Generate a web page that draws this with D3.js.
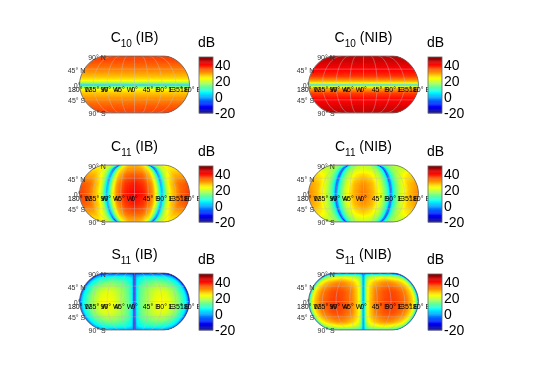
<!DOCTYPE html>
<html lang="en">
  <head>
    <meta charset="utf-8"/>
    <title>Radiation patterns</title>
    <script src="https://cdn.jsdelivr.net/npm/d3@7/dist/d3.min.js"></script>
    <style>
      html, body { margin: 0; background: #fff; }
      #chart { position: relative; width: 545px; height: 385px; overflow: hidden; filter: blur(0.35px); }
      canvas, svg { position: absolute; left: 0; top: 0; }
      text { font-family: "Liberation Sans", Arial, sans-serif; fill: #000; }
    </style>
  </head>
  <body>
    <div id="chart">
      <canvas id="heat" width="545" height="385"></canvas>
      <svg id="over" width="545" height="385"></svg>
    </div>
    <script type="text/javascript">
     // dB values. Quadrant only: each row is a |latitude|,
     // each column a |longitude|, the maps look mirrored about both axes.
     const latC10 = [0, 1.5, 3, 6, 10, 15, 25, 45, 70, 90];
     const c10Ib = [0, 7, 12, 17, 22, 25, 28, 32, 35, 36];
     const c10Nib = [3, 12, 18, 24, 29, 32, 37, 41, 44, 45];

     const lonC11 = [0, 30, 60, 75, 82, 87, 90, 93, 98, 105, 120, 150, 180];
     const latC11 = [0, 30, 60, 75, 90];
     const c11Ib = [
       [41, 39, 31, 20, 12, 5, -2, 5, 10, 18, 26, 34, 37],
       [39, 37, 30, 19, 11, 4, -3, 4, 10, 18, 26, 33, 35],
       [34, 33, 27, 17, 9, 2, -5, 2, 8, 15, 22, 28, 29],
       [31, 30, 25, 15, 7, -1, -8, -1, 6, 13, 20, 25, 26],
       [29, 28, 23, 13, 5, -4, -12, -4, 4, 11, 18, 23, 24]
     ];
     const c11Nib = [
       [33, 29, 21, 13, 8, 1, -9, 1, 8, 13, 20, 28, 32],
       [31, 28, 20, 12, 7, 0, -10, 0, 7, 12, 19, 27, 30],
       [26, 24, 18, 11, 6, -2, -12, -2, 6, 11, 17, 23, 26],
       [22, 21, 16, 10, 5, -3, -13, -3, 5, 10, 16, 20, 21],
       [20, 19, 15, 9, 3, -5, -14, -5, 3, 9, 14, 18, 19]
     ];

     const lonS11 = [0, 2, 5, 10, 20, 40, 70, 90, 110, 140, 160, 170, 175, 178, 180];
     const latS11 = [0, 30, 45, 60, 75, 83, 87, 90];
     const s11Ib = [
       [-16, -6, 3, 9, 14, 18, 23, 24, 23, 17, 10, 5, 0, -7, -16],
       [-16, -6, 3, 8, 13, 17, 21, 22, 21, 16, 9, 5, 0, -7, -16],
       [-16, -7, 2, 7, 12, 15, 18, 19, 18, 14, 8, 4, -1, -8, -16],
       [-17, -8, 1, 6, 9, 12, 14, 15, 14, 11, 7, 3, -2, -9, -17],
       [-18, -9, 0, 4, 6, 8, 9, 9, 9, 7, 4, 1, -3, -10, -18],
       [-18, -10, -2, 1, 2, 3, 3, 3, 3, 3, 1, -1, -4, -11, -18],
       [-18, -12, -5, -3, -2, -1, 0, 0, 0, -1, -2, -3, -6, -12, -18],
       [-18, -15, -12, -12, -12, -12, -12, -12, -12, -12, -12, -12, -12, -15, -18]
     ];
     const s11Nib = [
       [-8, 2, 12, 20, 27, 33, 36, 37, 36, 33, 27, 20, 12, 2, -8],
       [-8, 2, 12, 20, 26, 32, 35, 36, 35, 32, 26, 20, 12, 2, -8],
       [-9, 1, 11, 19, 25, 30, 33, 34, 33, 30, 25, 19, 11, 1, -9],
       [-9, 0, 10, 17, 23, 27, 30, 31, 30, 27, 23, 17, 10, 0, -9],
       [-10, -1, 8, 13, 18, 21, 23, 24, 23, 21, 18, 13, 8, -1, -10],
       [-11, -3, 5, 9, 13, 15, 16, 16, 16, 15, 13, 9, 5, -3, -11],
       [-12, -5, 0, 3, 6, 8, 9, 9, 9, 8, 6, 3, 0, -5, -12],
       [-13, -10, -8, -8, -8, -8, -8, -8, -8, -8, -8, -8, -8, -10, -13]
     ];

     const titles = [["C", "10", " (IB)"], ["C", "10", " (NIB)"],
                     ["C", "11", " (IB)"], ["C", "11", " (NIB)"],
                     ["S", "11", " (IB)"], ["S", "11", " (NIB)"]];
     const colorTicks = [-20, 0, 20, 40];
     const lonTicks = [-180, -135, -90, -45, 0, 45, 90, 135, 180];
     const latTicks = [90, 45, 0, -45, -90];

     function latOnly(values) {
         let s = d3.scaleLinear().domain(latC10).range(values);
         return (lon, lat) => s(Math.abs(lat));
     }

     function grid(lons, lats, rows) {
         let ci = d3.scaleLinear().domain(lons).range(d3.range(lons.length));
         let ri = d3.scaleLinear().domain(lats).range(d3.range(lats.length));
         return (lon, lat) => {
             let c = ci(Math.abs(lon)),
                 r = ri(Math.abs(lat)),
                 c0 = Math.min(Math.floor(c), lons.length - 2),
                 r0 = Math.min(Math.floor(r), lats.length - 2),
                 a = d3.interpolateNumber(rows[r0][c0], rows[r0][c0 + 1])(c - c0),
                 b = d3.interpolateNumber(rows[r0 + 1][c0], rows[r0 + 1][c0 + 1])(c - c0);
             return d3.interpolateNumber(a, b)(r - r0);
         };
     }

     const panels = [latOnly(c10Ib), latOnly(c10Nib),
                     grid(lonC11, latC11, c11Ib), grid(lonC11, latC11, c11Nib),
                     grid(lonS11, latS11, s11Ib), grid(lonS11, latS11, s11Nib)];

     const jet = d3.scaleLinear()
                   .domain([-20, -11.25, 6.25, 23.75, 41.25, 50])
                   .range(["#000080", "#0000ff", "#00ffff", "#ffff00", "#ff0000", "#800000"])
                   .clamp(true);

     // flat topped pseudocylindrical outline, fitted to the picture
     function flatRaw(lambda, phi) {
         let t = Math.abs(phi) / (Math.PI / 2),
             y = t + 0.16 * t * (1 - t),
             w = 0.54 + 0.46 * Math.pow(Math.max(0, 1 - Math.pow(y, 1.85)), 1 / 1.85);
         return [lambda * w, Math.sign(phi) * y * 1.622];
     }

     const rowTop = [56, 165, 273],
           colCx = [134.5, 363.5],
           barX = [199, 428],
           mapH = 57;

     let ctx = document.getElementById("heat").getContext("2d");
     let svg = d3.select("#over");

     panels.forEach((value, i) => {
         let col = i % 2,
             row = Math.floor(i / 2),
             cy = rowTop[row] + mapH / 2;

         let projection = d3.geoProjection(flatRaw)
                            .scale(55 / Math.PI)
                            .translate([colCx[col], cy])
                            .precision(0.1);
         let path = d3.geoPath(projection);

         // heat cells, clipped to the map outline
         ctx.save();
         ctx.beginPath();
         d3.geoPath(projection, ctx)({type: "Sphere"});
         ctx.clip();
         let dLon = 2, dLat = 1;
         for (let lat = -90; lat < 90; lat += dLat) {
             for (let lon = -180; lon < 180; lon += dLon) {
                 let c = jet(value(lon + dLon / 2, lat + dLat / 2));
                 let pts = [[lon, lat], [lon, lat + dLat], [lon + dLon, lat + dLat], [lon + dLon, lat]]
                     .map(p => projection(p));
                 ctx.beginPath();
                 pts.forEach((p, k) => k ? ctx.lineTo(p[0], p[1]) : ctx.moveTo(p[0], p[1]));
                 ctx.closePath();
                 ctx.fillStyle = c;
                 ctx.strokeStyle = c;
                 ctx.lineWidth = 0.6;
                 ctx.fill();
                 ctx.stroke();
             }
         }
         ctx.restore();

         let g = svg.append("g");

         let graticule = d3.geoGraticule()
                           .extent([[-180, -90], [180, 90]])
                           .step([45, 45]);
         g.append("path")
          .datum(graticule())
          .attr("d", path)
          .attr("fill", "none")
          .attr("stroke", "#c0c0c0")
          .attr("stroke-opacity", 0.7)
          .attr("stroke-width", 0.6);
         g.append("path")
          .datum({type: "Sphere"})
          .attr("d", path)
          .attr("fill", "none")
          .attr("stroke", "#666")
          .attr("stroke-width", 0.8);

         // graticule labels, they do overlap in the original too
         g.selectAll("text.lon")
          .data(lonTicks)
          .join("text")
          .attr("class", "lon")
          .attr("x", d => projection([d, 0])[0] + (d == -180 || d == 0 ? 0 : d == 180 ? 1 : 3))
          .attr("y", cy + 7)
          .attr("text-anchor", "middle")
          .attr("font-size", 7)
          .text(d => d == 0 ? "0°" : Math.abs(d) + "° " + (d < 0 ? "W" : "E"));

         g.selectAll("text.lat")
          .data(latTicks)
          .join("text")
          .attr("class", "lat")
          .attr("x", d => projection([-180, d])[0] + 1)
          .attr("y", d => d == 0 ? cy + 3 : projection([-180, d])[1] + (d > 0 ? 4 : 3))
          .attr("text-anchor", "end")
          .attr("font-size", 7)
          .style("fill", "#333")
          .text(d => d == 0 ? "0°" : Math.abs(d) + "° " + (d < 0 ? "S" : "N"));

         // title with subscript
         let title = g.append("text")
                      .attr("x", colCx[col])
                      .attr("y", rowTop[row] - 14)
                      .attr("text-anchor", "middle")
                      .attr("font-size", 14);
         title.append("tspan").text(titles[i][0]);
         title.append("tspan").attr("dy", 5).attr("font-size", 10).text(titles[i][1]);
         title.append("tspan").attr("dy", -5).text(titles[i][2]);

         // colour bar
         let barScale = d3.scaleLinear().domain([-20, 50]).range([rowTop[row] + 57, rowTop[row] + 1]);
         let steps = d3.range(64).map(k => -20 + k * 70 / 64);
         g.selectAll("rect.step")
          .data(steps)
          .join("rect")
          .attr("class", "step")
          .attr("x", barX[col])
          .attr("y", d => barScale(d + 70 / 64))
          .attr("width", 14)
          .attr("height", barScale(-20) - barScale(-20 + 70 / 64) + 0.4)
          .attr("fill", d => jet(d + 35 / 64));
         g.append("rect")
          .attr("x", barX[col])
          .attr("y", barScale(50))
          .attr("width", 14)
          .attr("height", barScale(-20) - barScale(50))
          .attr("fill", "none")
          .attr("stroke", "#666")
          .attr("stroke-width", 0.8);

         let axis = g.append("g")
                     .attr("transform", `translate(${barX[col] + 14}, 0)`)
                     .call(d3.axisRight(barScale).tickValues(colorTicks).tickSize(0).tickPadding(2));
         axis.select(".domain").remove();
         axis.selectAll("text")
             .attr("font-size", 14)
             .attr("font-family", "Liberation Sans")
             .text(d => d);

         g.append("text")
          .attr("x", barX[col] - 1)
          .attr("y", rowTop[row] - 9)
          .attr("font-size", 14)
          .text("dB");
     });
    </script>
  </body>
</html>
